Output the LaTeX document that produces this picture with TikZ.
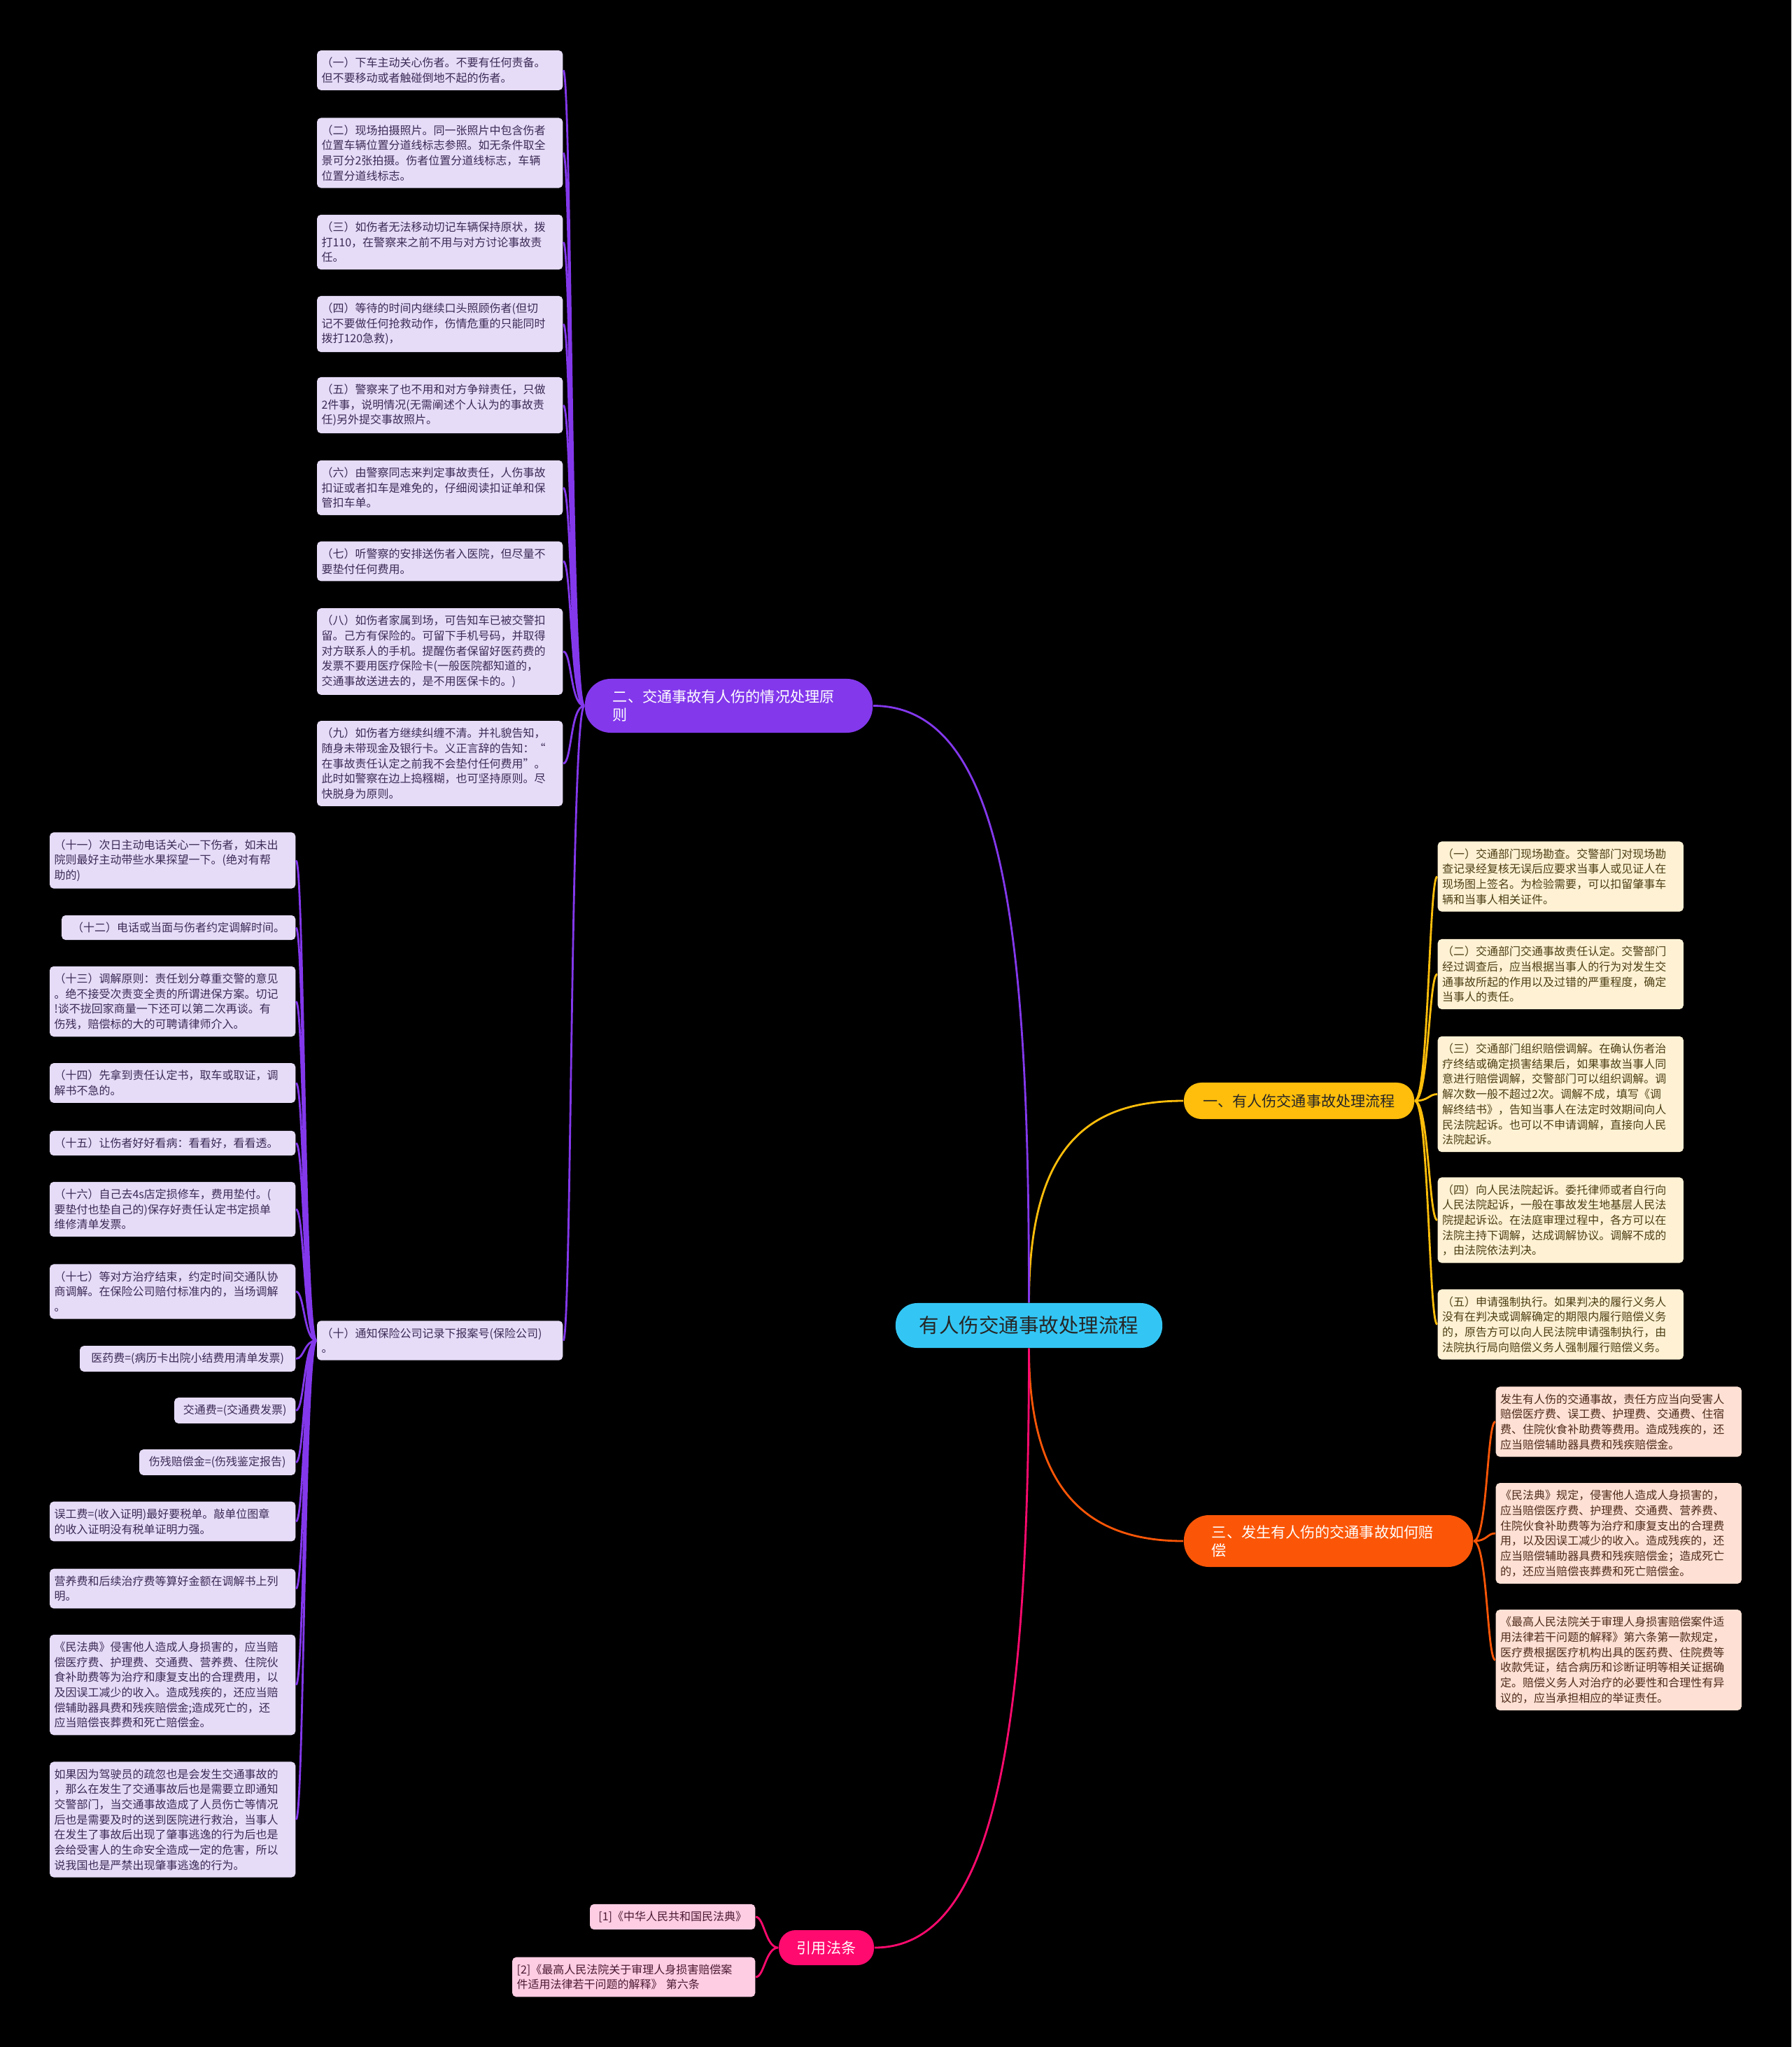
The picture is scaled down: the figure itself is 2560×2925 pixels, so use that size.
\documentclass[tikz,border=0pt]{standalone}
\usepackage{fontspec}
\newfontfamily\cjk{Noto Sans CJK SC}
\usetikzlibrary{positioning, calc}

\definecolor{purpleMain}{HTML}{8338EC}
\definecolor{purpleLeaf}{HTML}{E6DCF8}
\definecolor{purpleInk}{HTML}{3B2A55}
\definecolor{yellowMain}{HTML}{FFBE0B}
\definecolor{yellowLeaf}{HTML}{FFF2D4}
\definecolor{yellowInk}{HTML}{4B3E14}
\definecolor{orangeMain}{HTML}{FB5607}
\definecolor{orangeLeaf}{HTML}{FEE1D4}
\definecolor{orangeInk}{HTML}{4D2A1A}
\definecolor{pinkMain}{HTML}{FF0A6E}
\definecolor{pinkLeaf}{HTML}{FFCDE3}
\definecolor{pinkInk}{HTML}{4A1A33}
\definecolor{rootFill}{HTML}{33C6F4}
\definecolor{rootInk}{HTML}{262626}

\begin{document}
\begin{tikzpicture}[
    x=0.01cm, y=-0.01cm,
    leaf/.style={rounded corners=1.6pt, inner xsep=0.065cm, inner ysep=0.1cm, align=left,
        font=\cjk\fontsize{4.55}{6.17}\selectfont},
    wide/.style={text width=3.38cm},
    leafP/.style={leaf, fill=purpleLeaf, text=purpleInk},
    leafY/.style={leaf, fill=yellowLeaf, text=yellowInk},
    leafO/.style={leaf, fill=orangeLeaf, text=orangeInk},
    leafK/.style={leaf, fill=pinkLeaf, text=pinkInk},
    branch/.style={font=\cjk\fontsize{6}{7.4}\selectfont},
    linkP/.style={draw=purpleMain, line width=0.8pt},
    linkY/.style={draw=yellowMain, line width=0.8pt},
    linkO/.style={draw=orangeMain, line width=0.8pt},
    linkK/.style={draw=pinkMain, line width=0.8pt}
]
    \fill[black] (0,0) rectangle (2560,2925);
    \useasboundingbox (0,0) rectangle (2560,2925);

    % --- ROOT ---
    \node[fill=rootFill, text=rootInk, rounded corners=0.31cm, minimum width=3.81cm, minimum height=0.64cm,
        font=\cjk\fontsize{8.1}{9.7}\selectfont] (root) at (1470.5, 1894) {有人伤交通事故处理流程};

    % --- BRANCHES ---
    \node[branch, fill=yellowMain, text=rootInk, rounded corners=0.25cm, minimum width=3.29cm,
        minimum height=0.52cm] (br1) at (1856.5, 1573) {一、有人伤交通事故处理流程};
    \node[branch, fill=purpleMain, text=white, rounded corners=0.37cm, minimum height=0.77cm,
        text width=3.31cm, inner xsep=0.4cm, align=left] (br2) at (1041.5, 1008.5)
        {二、交通事故有人伤的情况处理原\\则};
    \node[branch, fill=orangeMain, text=white, rounded corners=0.36cm, minimum height=0.74cm,
        text width=3.33cm, inner xsep=0.4cm, align=left] (br3) at (1898.5, 2202)
        {三、发生有人伤的交通事故如何赔\\偿};
    \node[branch, fill=pinkMain, text=white, rounded corners=0.24cm, minimum width=1.36cm,
        minimum height=0.5cm] (br4) at (1181, 2783) {引用法条};

    \draw[linkY] (root.north) .. controls +(0,-220) and +(-140,0) .. (br1.west);
    \draw[linkP] (root.north) .. controls +(0,-520) and +(190,0) .. (br2.east);
    \draw[linkO] (root.south) .. controls +(0,200) and +(-140,0) .. (br3.west);
    \draw[linkK] (root.south) .. controls +(0,560) and +(170,0) .. (br4.east);

    % --- BRANCH 1 (yellow, right) ---
    \node[leafY, wide, anchor=west] (y1) at (2054, 1252.5)
        {（一）交通部门现场勘查。交警部门对现场勘\\查记录经复核无误后应要求当事人或见证人在\\现场图上签名。为检验需要，可以扣留肇事车\\辆和当事人相关证件。};
    \node[leafY, wide, anchor=west] (y2) at (2054, 1392)
        {（二）交通部门交通事故责任认定。交警部门\\经过调查后，应当根据当事人的行为对发生交\\通事故所起的作用以及过错的严重程度，确定\\当事人的责任。};
    \node[leafY, wide, anchor=west] (y3) at (2054, 1563.5)
        {（三）交通部门组织赔偿调解。在确认伤者治\\疗终结或确定损害结果后，如果事故当事人同\\意进行赔偿调解，交警部门可以组织调解。调\\解次数一般不超过2次。调解不成，填写《调\\解终结书》，告知当事人在法定时效期间向人\\民法院起诉。也可以不申请调解，直接向人民\\法院起诉。};
    \node[leafY, wide, anchor=west] (y4) at (2054, 1743.5)
        {（四）向人民法院起诉。委托律师或者自行向\\人民法院起诉，一般在事故发生地基层人民法\\院提起诉讼。在法庭审理过程中，各方可以在\\法院主持下调解，达成调解协议。调解不成的\\，由法院依法判决。};
    \node[leafY, wide, anchor=west] (y5) at (2054, 1892.5)
        {（五）申请强制执行。如果判决的履行义务人\\没有在判决或调解确定的期限内履行赔偿义务\\的，原告方可以向人民法院申请强制执行，由\\法院执行局向赔偿义务人强制履行赔偿义务。};

    \draw[linkY] (br1.east) .. controls +(20,0) and +(-12,0) .. (y1.west)
                 (br1.east) .. controls +(20,0) and +(-12,0) .. (y2.west)
                 (br1.east) .. controls +(20,0) and +(-12,0) .. (y3.west)
                 (br1.east) .. controls +(20,0) and +(-12,0) .. (y4.west)
                 (br1.east) .. controls +(20,0) and +(-12,0) .. (y5.west);

    % --- BRANCH 2 (purple, left) ---
    \node[leafP, wide, anchor=east] (p1) at (805, 100.5)
        {（一）下车主动关心伤者。不要有任何责备。\\但不要移动或者触碰倒地不起的伤者。};
    \node[leafP, wide, anchor=east] (p2) at (805, 218.5)
        {（二）现场拍摄照片。同一张照片中包含伤者\\位置车辆位置分道线标志参照。如无条件取全\\景可分2张拍摄。伤者位置分道线标志，车辆\\位置分道线标志。};
    \node[leafP, wide, anchor=east] (p3) at (805, 346)
        {（三）如伤者无法移动切记车辆保持原状，拨\\打110，在警察来之前不用与对方讨论事故责\\任。};
    \node[leafP, wide, anchor=east] (p4) at (805, 463)
        {（四）等待的时间内继续口头照顾伤者(但切\\记不要做任何抢救动作，伤情危重的只能同时\\拨打120急救)，};
    \node[leafP, wide, anchor=east] (p5) at (805, 579)
        {（五）警察来了也不用和对方争辩责任，只做\\2件事，说明情况(无需阐述个人认为的事故责\\任)另外提交事故照片。};
    \node[leafP, wide, anchor=east] (p6) at (805, 697)
        {（六）由警察同志来判定事故责任，人伤事故\\扣证或者扣车是难免的，仔细阅读扣证单和保\\管扣车单。};
    \node[leafP, wide, anchor=east] (p7) at (805, 802)
        {（七）听警察的安排送伤者入医院，但尽量不\\要垫付任何费用。};
    \node[leafP, wide, anchor=east] (p8) at (805, 931)
        {（八）如伤者家属到场，可告知车已被交警扣\\留。己方有保险的。可留下手机号码，并取得\\对方联系人的手机。提醒伤者保留好医药费的\\发票不要用医疗保险卡(一般医院都知道的，\\交通事故送进去的，是不用医保卡的。)};
    \node[leafP, wide, anchor=east] (p9) at (805, 1091)
        {（九）如伤者方继续纠缠不清。并礼貌告知，\\随身未带现金及银行卡。义正言辞的告知：“\\在事故责任认定之前我不会垫付任何费用”。\\此时如警察在边上捣糨糊，也可坚持原则。尽\\快脱身为原则。};
    \node[leafP, wide, anchor=east] (p10) at (805, 1915.5)
        {（十）通知保险公司记录下报案号(保险公司)\\。};

    \draw[linkP] (br2.west) .. controls +(-20,0) and +(12,0) .. (p1.east)
                 (br2.west) .. controls +(-20,0) and +(12,0) .. (p2.east)
                 (br2.west) .. controls +(-20,0) and +(12,0) .. (p3.east)
                 (br2.west) .. controls +(-20,0) and +(12,0) .. (p4.east)
                 (br2.west) .. controls +(-20,0) and +(12,0) .. (p5.east)
                 (br2.west) .. controls +(-20,0) and +(12,0) .. (p6.east)
                 (br2.west) .. controls +(-20,0) and +(12,0) .. (p7.east)
                 (br2.west) .. controls +(-20,0) and +(12,0) .. (p8.east)
                 (br2.west) .. controls +(-20,0) and +(12,0) .. (p9.east)
                 (br2.west) .. controls +(-20,0) and +(12,0) .. (p10.east);

    % --- (十) sub-items, far left column ---
    \node[leafP, wide, anchor=east] (q11) at (423, 1229.5)
        {（十一）次日主动电话关心一下伤者，如未出\\院则最好主动带些水果探望一下。(绝对有帮\\助的)};
    \node[leafP, anchor=east, minimum width=3.34cm] (q12) at (423, 1325.5)
        {（十二）电话或当面与伤者约定调解时间。};
    \node[leafP, wide, anchor=east] (q13) at (423, 1431)
        {（十三）调解原则：责任划分尊重交警的意见\\。绝不接受次责变全责的所谓进保方案。切记\\!谈不拢回家商量一下还可以第二次再谈。有\\伤残，赔偿标的大的可聘请律师介入。};
    \node[leafP, wide, anchor=east] (q14) at (423, 1547.5)
        {（十四）先拿到责任认定书，取车或取证，调\\解书不急的。};
    \node[leafP, wide, anchor=east] (q15) at (423, 1633.5)
        {（十五）让伤者好好看病：看看好，看看透。};
    \node[leafP, wide, anchor=east] (q16) at (423, 1728)
        {（十六）自己去4s店定损修车，费用垫付。(\\要垫付也垫自己的)保存好责任认定书定损单\\维修清单发票。};
    \node[leafP, wide, anchor=east] (q17) at (423, 1845.5)
        {（十七）等对方治疗结束，约定时间交通队协\\商调解。在保险公司赔付标准内的，当场调解\\。};
    \node[leafP, anchor=east, minimum width=3.08cm] (q18) at (423, 1941.5) {医药费=(病历卡出院小结费用清单发票)};
    \node[leafP, anchor=east, minimum width=1.73cm] (q19) at (423, 2015.5) {交通费=(交通费发票)};
    \node[leafP, anchor=east, minimum width=2.23cm] (q20) at (423, 2089.5) {伤残赔偿金=(伤残鉴定报告)};
    \node[leafP, wide, anchor=east] (q21) at (423, 2174)
        {误工费=(收入证明)最好要税单。敲单位图章\\的收入证明没有税单证明力强。};
    \node[leafP, wide, anchor=east] (q22) at (423, 2270)
        {营养费和后续治疗费等算好金额在调解书上列\\明。};
    \node[leafP, wide, anchor=east] (q23) at (423, 2407.5)
        {《民法典》侵害他人造成人身损害的，应当赔\\偿医疗费、护理费、交通费、营养费、住院伙\\食补助费等为治疗和康复支出的合理费用，以\\及因误工减少的收入。造成残疾的，还应当赔\\偿辅助器具费和残疾赔偿金;造成死亡的，还\\应当赔偿丧葬费和死亡赔偿金。};
    \node[leafP, wide, anchor=east] (q24) at (423, 2600)
        {如果因为驾驶员的疏忽也是会发生交通事故的\\，那么在发生了交通事故后也是需要立即通知\\交警部门，当交通事故造成了人员伤亡等情况\\后也是需要及时的送到医院进行救治，当事人\\在发生了事故后出现了肇事逃逸的行为后也是\\会给受害人的生命安全造成一定的危害，所以\\说我国也是严禁出现肇事逃逸的行为。};

    \draw[linkP] (p10.west) .. controls +(-18,0) and +(12,0) .. (q11.east)
                 (p10.west) .. controls +(-18,0) and +(12,0) .. (q12.east)
                 (p10.west) .. controls +(-18,0) and +(12,0) .. (q13.east)
                 (p10.west) .. controls +(-18,0) and +(12,0) .. (q14.east)
                 (p10.west) .. controls +(-18,0) and +(12,0) .. (q15.east)
                 (p10.west) .. controls +(-18,0) and +(12,0) .. (q16.east)
                 (p10.west) .. controls +(-18,0) and +(12,0) .. (q17.east)
                 (p10.west) .. controls +(-18,0) and +(12,0) .. (q18.east)
                 (p10.west) .. controls +(-18,0) and +(12,0) .. (q19.east)
                 (p10.west) .. controls +(-18,0) and +(12,0) .. (q20.east)
                 (p10.west) .. controls +(-18,0) and +(12,0) .. (q21.east)
                 (p10.west) .. controls +(-18,0) and +(12,0) .. (q22.east)
                 (p10.west) .. controls +(-18,0) and +(12,0) .. (q23.east)
                 (p10.west) .. controls +(-18,0) and +(12,0) .. (q24.east);

    % --- BRANCH 3 (orange, right) ---
    \node[leafO, wide, anchor=west] (o1) at (2137, 2031.5)
        {发生有人伤的交通事故，责任方应当向受害人\\赔偿医疗费、误工费、护理费、交通费、住宿\\费、住院伙食补助费等费用。造成残疾的，还\\应当赔偿辅助器具费和残疾赔偿金。};
    \node[leafO, wide, anchor=west] (o2) at (2137, 2191)
        {《民法典》规定，侵害他人造成人身损害的，\\应当赔偿医疗费、护理费、交通费、营养费、\\住院伙食补助费等为治疗和康复支出的合理费\\用，以及因误工减少的收入。造成残疾的，还\\应当赔偿辅助器具费和残疾赔偿金；造成死亡\\的，还应当赔偿丧葬费和死亡赔偿金。};
    \node[leafO, wide, anchor=west] (o3) at (2137, 2372)
        {《最高人民法院关于审理人身损害赔偿案件适\\用法律若干问题的解释》第六条第一款规定，\\医疗费根据医疗机构出具的医药费、住院费等\\收款凭证，结合病历和诊断证明等相关证据确\\定。赔偿义务人对治疗的必要性和合理性有异\\议的，应当承担相应的举证责任。};

    \draw[linkO] (br3.east) .. controls +(20,0) and +(-12,0) .. (o1.west)
                 (br3.east) .. controls +(20,0) and +(-12,0) .. (o2.west)
                 (br3.east) .. controls +(20,0) and +(-12,0) .. (o3.west);

    % --- BRANCH 4 (pink, bottom) ---
    \node[leafK, anchor=east, minimum width=2.36cm] (k1) at (1080, 2739) {[1]《中华人民共和国民法典》};
    \node[leafK, anchor=east, text width=3.34cm] (k2) at (1080, 2825)
        {[2]《最高人民法院关于审理人身损害赔偿案\\件适用法律若干问题的解释》 第六条};

    \draw[linkK] (br4.west) .. controls +(-18,0) and +(12,0) .. (k1.east)
                 (br4.west) .. controls +(-18,0) and +(12,0) .. (k2.east);
\end{tikzpicture}
\end{document}
